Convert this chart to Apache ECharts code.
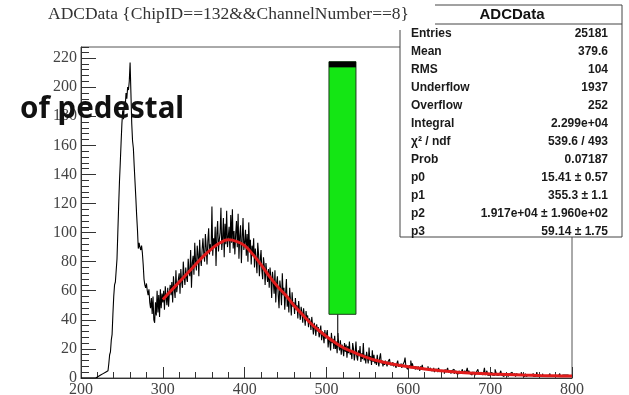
<!DOCTYPE html>
<html>
<head>
<meta charset="utf-8">
<script src="https://cdn.jsdelivr.net/npm/echarts@6/dist/echarts.min.js"></script>
<style>
  html, body { margin: 0; padding: 0; background: #fff; }
  #chart { width: 629px; height: 395px; }
</style>
</head>
<body>
<div id="chart"></div>
<script>
// ADC spectrum, one bin per ADC count, starting at 200
const binStart = 200;
const binWidth = 1;
const counts = [
  0,0,0,0,0,0,0,0,0,0,
  0,0,0,0,0,0,0,0,1,0,
  1,2,1,2,3,2,3,2,3,4,
  3,4,5,6,10,16,18,26,30,44,
  56,64,66,65,82,100,118,135,148,162,
  175,184,178,190,186,196,192,200,198,204,
  217,196,175,163,158,146,135,124,112,102,
  89,93,90,88,91,86,78,68,64,62,
  65,60,57,61,52,48,55,44,56,40,
  38,52,43,60,45,57,42,61,48,58,
  52,60,47,63,55,50,62,49,58,64,
  57,66,52,70,61,55,74,59,64,68,
  72,58,75,66,62,80,70,64,76,69,
  66,82,73,70,88,62,79,84,71,93,
  80,74,91,85,70,95,82,77,88,96,
  86,80,99,90,78,94,103,85,92,88,
  118,84,96,90,104,77,99,108,87,95,
  100,117,88,96,110,83,106,92,115,90,
  97,104,86,112,93,116,89,101,85,99,
  108,90,113,82,98,105,79,96,110,88,
  93,102,84,99,80,107,88,95,78,91,
  84,96,76,89,82,72,93,85,70,81,
  88,74,68,83,77,64,79,72,66,75,
  62,76,69,55,73,66,58,74,52,65,
  70,57,48,67,61,50,72,57,62,47,
  58,68,49,56,45,62,53,43,59,49,
  52,44,55,47,50,41,53,46,40,49,
  45,38,48,42,36,46,40,43,35,41,
  39,33,42,36,30,38,34,29,37,32,
  35,28,31,36,26,32,29,24,33,27,
  26,33,21,28,25,19,31,24,27,20,
  29,20,25,17,31,22,19,26,16,23,
  20,15,24,18,23,14,22,17,25,16,
  19,13,24,20,12,17,25,15,12,19,
  15,22,11,17,13,24,12,16,10,18,
  14,10,21,12,15,9,19,11,16,10,
  13,9,16,11,8,14,17,10,12,8,
  11,9,12,10,8,11,10,13,9,10,
  9,11,8,10,9,7,10,12,8,9,
  8,10,7,9,8,11,14,8,9,6,
  8,7,9,12,8,10,7,7,6,8,
  7,6,8,7,5,8,6,9,6,7,
  6,7,5,6,8,5,6,7,5,6,
  5,7,4,6,5,6,4,7,5,5,
  5,4,6,5,3,6,4,5,7,4,
  4,5,3,5,4,6,3,4,5,3,
  4,3,5,4,3,4,6,3,4,5,
  3,4,7,3,5,3,4,2,4,3,
  4,3,2,4,3,6,3,2,4,3,
  3,2,4,7,2,3,5,2,3,2,
  3,2,4,2,3,2,6,4,2,3,
  2,3,2,5,2,3,1,3,2,3,
  2,3,1,2,3,2,4,2,1,3,
  2,1,3,2,2,3,1,2,4,2,
  2,1,2,3,1,2,2,1,3,2,
  1,2,3,1,2,1,2,4,1,2,
  2,1,2,1,3,1,2,1,2,1,
  1,2,1,3,1,2,1,1,2,1,
  2,1,1,2,1,3,1,1,2,1,
  1,2,1,1,2,1,3,1,2,2
];

// fitted curve, sampled along x
const fitX = [300,310,320,330,340,350,360,370,380,390,400,410,420,430,440,450,460,470,480,490,
              500,510,520,530,540,550,560,570,580,590,600,620,640,660,680,700,720,740,760,780,800];
const fitY = [54,60,66,72,78,84,89,93,95,94,91,85,78,70,63,57,50,44,38,33,
              28.5,24.5,21,18.5,16,14,12.2,10.8,9.6,8.6,7.8,6.2,5,4,3.3,2.8,2.4,2.0,1.7,1.5,1.3];

// axis ranges
const xRange = [200, 800];
const yMax = 227.6;

// highlighted box: x span, [bottom, cap bottom, top], whisker [x, low]
const boxX = [503, 536];
const boxY = [43.8, 213.6, 217.5];
const whisker = [513.7, 28];

const titleText = 'ADCData {ChipID==132&&ChannelNumber==8}';
const statsTitle = 'ADCData';
const statsNames = ['Entries','Mean','RMS','Underflow','Overflow','Integral','χ² / ndf','Prob','p0','p1','p2','p3'];
const statsValues = ['25181','379.6','104','1937','252','2.299e+04','539.6 / 493','0.07187',
                     '15.41 ± 0.57','355.3 ± 1.1','1.917e+04 ± 1.960e+02','59.14 ± 1.75'];
const noteText = 'of pedestal';

const histData = counts.map((c, i) => [binStart + i * binWidth, c]);
histData.push([binStart + counts.length * binWidth, counts[counts.length - 1]]);
const fitData = fitX.map((x, i) => [x, fitY[i]]);

const serif = '"Liberation Serif","Times New Roman",serif';
const sans = '"Liberation Sans",Arial,Helvetica,sans-serif';
const axisColor = '#333';

// stats panel geometry (its top-left corner sits under the title box)
const sp = { left: 400, right: 622, top: 5, bottom: 237, header: 24, cutX: 435, cutY: 30 };
const statsGraphics = [
  { type: 'polygon', z: 100, shape: { points: [[sp.cutX, sp.top], [sp.right, sp.top], [sp.right, sp.bottom], [sp.left, sp.bottom], [sp.left, sp.cutY], [sp.cutX, sp.cutY]] }, style: { fill: '#fff' } },
  { type: 'polyline', z: 101, shape: { points: [[sp.cutX, sp.top], [sp.right, sp.top], [sp.right, sp.bottom], [sp.left, sp.bottom], [sp.left, sp.cutY]] }, style: { stroke: '#444', lineWidth: 1, fill: null } },
  { type: 'line', z: 101, shape: { x1: sp.cutX, y1: sp.header, x2: sp.right, y2: sp.header }, style: { stroke: '#444', lineWidth: 1 } },
  { type: 'text', z: 102, x: (sp.left + sp.right) / 2 + 1, y: 15, style: { text: statsTitle, font: 'bold 15px ' + sans, fill: '#111', textAlign: 'center', textVerticalAlign: 'middle' } }
];
statsNames.forEach((name, i) => {
  statsGraphics.push({ type: 'text', z: 102, x: 411, y: 34 + 18 * i, style: { text: name, font: 'bold 12px ' + sans, fill: '#1a1a1a', textAlign: 'left', textVerticalAlign: 'middle' } });
  statsGraphics.push({ type: 'text', z: 102, x: 608, y: 34 + 18 * i, style: { text: statsValues[i], font: 'bold 12px ' + sans, fill: '#1a1a1a', textAlign: 'right', textVerticalAlign: 'middle' } });
});
statsGraphics.push({ type: 'text', z: 110, x: 20, y: 110, style: { text: noteText, font: 'bold 29.5px "Noto Sans", ' + sans, fill: '#111', textAlign: 'left', textVerticalAlign: 'middle' } });

const chart = echarts.init(document.getElementById('chart'));
chart.setOption({
  animation: false,
  backgroundColor: '#fff',
  title: {
    text: titleText, left: 48, top: 5, padding: 0, z: 200,
    textStyle: { fontFamily: serif, fontSize: 17.5, fontWeight: 'normal', color: '#333' }
  },
  grid: {
    left: 81, right: 57, top: 47, bottom: 17, show: true, borderColor: '#555', borderWidth: 1,
    containLabel: false, outerBoundsMode: 'none'
  },
  xAxis: {
    type: 'value', min: xRange[0], max: xRange[1], interval: 100,
    axisLine: { lineStyle: { color: axisColor } },
    axisTick: { inside: true, length: 11, lineStyle: { color: axisColor } },
    minorTick: { show: true, splitNumber: 5, length: 6, lineStyle: { color: axisColor } },
    splitLine: { show: false },
    axisLabel: { fontFamily: serif, fontSize: 16, color: '#444', margin: 4 }
  },
  yAxis: [
    {
      type: 'value', min: 0, max: yMax, interval: 20, position: 'left',
      axisLine: { show: true, lineStyle: { color: axisColor } },
      axisTick: { show: true, inside: true, length: 15, lineStyle: { color: axisColor } },
      axisLabel: { showMaxLabel: false, fontFamily: serif, fontSize: 16, color: '#444', margin: 4 },
      splitLine: { show: false }
    },
    {
      type: 'value', min: 0, max: yMax, interval: 4, position: 'left', offset: 0,
      axisLine: { show: false },
      axisTick: { show: true, inside: true, length: 8, lineStyle: { color: axisColor } },
      axisLabel: { show: false },
      splitLine: { show: false }
    }
  ],
  series: [
    {
      type: 'line', data: histData, step: 'end', symbol: 'none', yAxisIndex: 0,
      lineStyle: { color: '#000', width: 1.1 }, z: 2
    },
    {
      type: 'line', data: fitData, smooth: 0.4, symbol: 'none', yAxisIndex: 0,
      lineStyle: { color: '#e11b1b', width: 3 }, z: 3
    },
    {
      type: 'custom', yAxisIndex: 0, z: 4,
      data: [[boxX[0], boxX[1], boxY[0], boxY[2], boxY[1], whisker[0], whisker[1]]],
      renderItem: function (params, api) {
        const tl = api.coord([api.value(0), api.value(3)]);
        const br = api.coord([api.value(1), api.value(2)]);
        const cap = api.coord([api.value(0), api.value(4)]);
        const w0 = api.coord([api.value(5), api.value(2)]);
        const w1 = api.coord([api.value(5), api.value(6)]);
        return {
          type: 'group',
          children: [
            { type: 'line', shape: { x1: w0[0], y1: w0[1], x2: w1[0], y2: w1[1] }, style: { stroke: '#222', lineWidth: 1.2 } },
            { type: 'rect', shape: { x: tl[0], y: tl[1], width: br[0] - tl[0], height: br[1] - tl[1] }, style: { fill: '#14e614', stroke: '#1d3d1d', lineWidth: 1 } },
            { type: 'rect', shape: { x: tl[0], y: tl[1], width: br[0] - tl[0], height: cap[1] - tl[1] }, style: { fill: '#000' } }
          ]
        };
      }
    }
  ],
  graphic: statsGraphics
});
</script>
</body>
</html>
